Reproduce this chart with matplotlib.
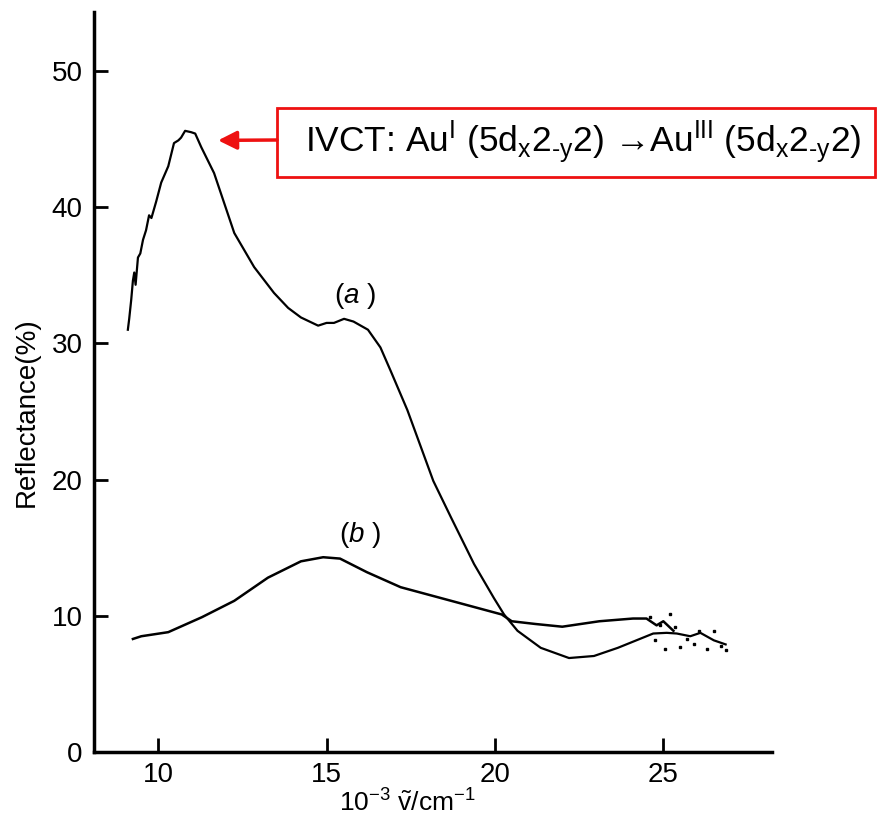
import numpy as np
import matplotlib.pyplot as plt
from matplotlib.patches import Rectangle

plt.rcParams['font.family'] = ['Liberation Sans', 'DejaVu Sans']
plt.rcParams['mathtext.fontset'] = 'custom'
plt.rcParams['mathtext.rm'] = 'Liberation Sans'
plt.rcParams['mathtext.it'] = 'Liberation Sans:italic'

# curve (a)
a_x = [9.1, 9.14, 9.2, 9.25, 9.29, 9.33, 9.4, 9.47, 9.55, 9.64, 9.73, 9.8, 9.94, 10.09,
       10.3, 10.47, 10.6, 10.68, 10.8, 10.98, 11.1, 11.28, 11.66, 12.26, 12.85, 13.44,
       13.86, 14.24, 14.75, 15.0, 15.22, 15.52, 15.8, 16.23, 16.6, 16.9, 17.4, 17.8,
       18.17, 18.7, 19.38, 19.97, 20.27, 20.67, 21.36, 22.2, 22.94, 23.65, 24.3, 24.7,
       25.1, 25.4, 25.8, 26.1, 26.5, 26.85]
a_y = [31.0, 31.8, 33.2, 34.6, 35.2, 34.3, 36.3, 36.6, 37.6, 38.3, 39.4, 39.2, 40.4, 41.8,
       43.0, 44.7, 44.9, 45.1, 45.6, 45.5, 45.4, 44.4, 42.5, 38.1, 35.6, 33.7,
       32.6, 31.9, 31.3, 31.5, 31.5, 31.8, 31.6, 31.0, 29.7, 28.0, 25.1, 22.4,
       19.9, 17.2, 13.8, 11.3, 10.1, 8.9, 7.65, 6.9, 7.05, 7.65, 8.3, 8.7,
       8.75, 8.7, 8.5, 8.75, 8.2, 7.9]

# curve (b)
b_x = [9.25, 9.5, 10.3, 11.3, 12.26, 13.26, 14.24, 14.9, 15.4, 16.2, 17.2, 18.7,
       20.2, 20.5, 21.2, 22.0, 23.1, 24.1, 24.5, 24.8, 25.0, 25.3]
b_y = [8.3, 8.5, 8.8, 9.9, 11.1, 12.8, 14.0, 14.3, 14.2, 13.2, 12.1, 11.1,
       10.1, 9.6, 9.4, 9.2, 9.6, 9.8, 9.8, 9.3, 9.6, 8.9]

# scattered noisy points at the high-energy end
n_x = [24.6, 24.75, 24.9, 25.05, 25.2, 25.35, 25.5, 25.7, 25.9, 26.05, 26.3, 26.5, 26.7, 26.85]
n_y = [9.9, 8.2, 9.3, 7.6, 10.1, 9.2, 7.7, 8.3, 7.9, 8.9, 7.6, 8.9, 7.8, 7.5]

x_ticks = [10, 15, 20, 25]
y_ticks = [0, 10, 20, 30, 40, 50]

fig = plt.figure(figsize=(8.77, 8.21), dpi=100)
ax = fig.add_axes([0.107, 0.084, 0.773, 0.901])

ax.plot(a_x, a_y, color='black', lw=1.6)
ax.plot(b_x, b_y, color='black', lw=1.8)
ax.plot(n_x, n_y, ls='none', marker='s', ms=1.8, color='black')

ax.set_xlim(8.09, 28.22)
ax.set_ylim(0, 54.3)
ax.set_xticks(x_ticks)
ax.set_yticks(y_ticks)
ax.tick_params(direction='in', length=10, width=2, labelsize=20, pad=8, colors='black')
ax.tick_params(axis='x', pad=7)
for s in ['top', 'right']:
    ax.spines[s].set_visible(False)
for s in ['left', 'bottom']:
    ax.spines[s].set_linewidth(2.5)

ax.set_ylabel('Reflectance(%)', fontsize=20)
ax.yaxis.set_label_coords(-0.08, 0.46)
ax.set_xlabel(r'10$^{-3}$ $\tilde{\mathrm{v}}$/cm$^{-1}$', fontsize=19)
ax.xaxis.set_label_coords(0.463, -0.05)

ax.text(15.85, 33.5, '($a$ )', fontsize=20, ha='center', va='center')
ax.text(16.0, 15.9, '($b$ )', fontsize=20, ha='center', va='center')

# annotation box
fig.patches.append(Rectangle((277 / 877, 1 - 177 / 821), 598 / 877, 69 / 821,
                             transform=fig.transFigure, fill=False,
                             edgecolor='#ee1111', lw=2))
fig.text(583 / 877, 1 - 142 / 821,
         r'IVCT: Au$^{\mathrm{I}}$ (5d$_{\mathrm{x}}$2$_{\text{-y}}$2) →Au$^{\mathrm{III}}$ (5d$_{\mathrm{x}}$2$_{\text{-y}}$2)',
         fontsize=25.5, ha='center', va='center')
ax.annotate('', xy=(11.78, 44.9), xycoords='data',
            xytext=(277, 821 - 140), textcoords='figure pixels',
            arrowprops=dict(arrowstyle='-|>', color='#ee1111', lw=2.5,
                            mutation_scale=28, shrinkA=0, shrinkB=0))

fig.savefig('out.png', dpi=100)
